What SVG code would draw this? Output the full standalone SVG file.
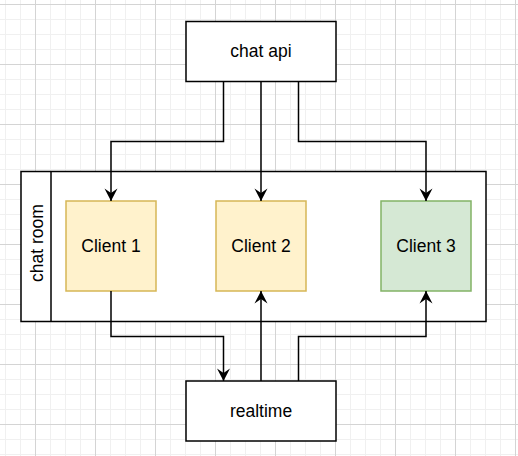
<svg xmlns="http://www.w3.org/2000/svg" width="518" height="456" viewBox="0 0 518 456">
  <defs>
    <pattern id="minor" x="5" y="4" width="15" height="15" patternUnits="userSpaceOnUse">
      <path d="M0,0.5 H15 M0.5,0 V15" fill="none" stroke="#f0f0f0" stroke-width="1"/>
    </pattern>
    <pattern id="major" x="35" y="4" width="60" height="60" patternUnits="userSpaceOnUse">
      <path d="M0,0.5 H60 M0.5,0 V60" fill="none" stroke="#d4d4d4" stroke-width="1"/>
    </pattern>
    <marker id="arrow" markerUnits="userSpaceOnUse" markerWidth="14" markerHeight="14" viewBox="-13 -7 14 14" refX="0" refY="0" orient="auto">
      <path d="M0,0 L-12.5,-6.5 L-8,0 L-12.5,6.5 Z" fill="#000"/>
    </marker>
    <style>
      .box { fill: #ffffff; stroke: #000000; stroke-width: 1.5; }
      .yellow { fill: #fff2cc; stroke: #d6b656; stroke-width: 1.5; }
      .green { fill: #d5e8d4; stroke: #82b366; stroke-width: 1.5; }
      .lbl { font-family: "Liberation Sans", Arial, Helvetica, sans-serif; font-size: 17.5px; fill: #000; text-anchor: middle; }
      .edge { fill: none; stroke: #000; stroke-width: 1.5; marker-end: url(#arrow); }
    </style>
  </defs>
  <rect width="518" height="456" fill="#ffffff"/>
  <rect width="518" height="456" fill="url(#minor)"/>
  <rect width="518" height="456" fill="url(#major)"/>

  <g id="chat-room">
    <rect class="box" x="21" y="171.5" width="465" height="150"/>
    <line x1="51" y1="171.5" x2="51" y2="321.5" stroke="#000" stroke-width="1.5"/>
    <text class="lbl" transform="translate(42.5,243) rotate(-90)" x="0" y="0">chat room</text>
  </g>

  <g id="chat-api">
    <rect class="box" x="186" y="21.5" width="150" height="60"/>
    <text class="lbl" x="261" y="57">chat api</text>
  </g>

  <g id="client-1">
    <rect class="yellow" x="66" y="201" width="90" height="90"/>
    <text class="lbl" x="111" y="252">Client 1</text>
  </g>

  <g id="client-2">
    <rect class="yellow" x="216" y="201" width="90" height="90"/>
    <text class="lbl" x="261" y="252">Client 2</text>
  </g>

  <g id="client-3">
    <rect class="green" x="381" y="201" width="90" height="90"/>
    <text class="lbl" x="426" y="252">Client 3</text>
  </g>

  <g id="realtime">
    <rect class="box" x="186" y="381" width="150" height="60"/>
    <text class="lbl" x="261" y="417">realtime</text>
  </g>

  <g id="connectors">
    <path class="edge" d="M223.5,81.5 V141.5 H111 V201"/>
    <path class="edge" d="M261,81.5 V201"/>
    <path class="edge" d="M298.5,81.5 V141.5 H426 V201"/>
    <path class="edge" d="M111,291 V336.5 H223.5 V381"/>
    <path class="edge" d="M261,381 V291"/>
    <path class="edge" d="M298.5,381 V336.5 H426 V291"/>
  </g>
</svg>
